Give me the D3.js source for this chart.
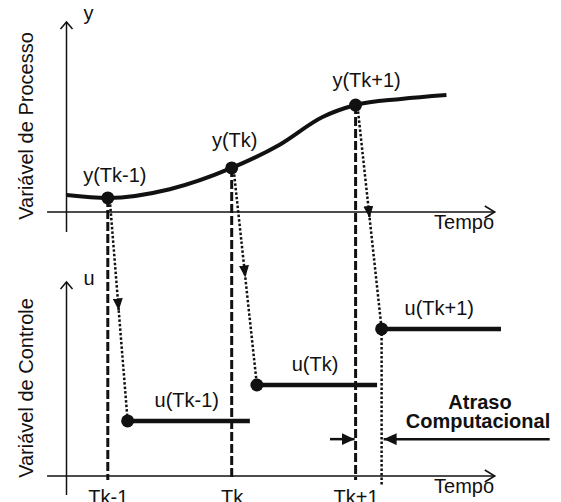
<!DOCTYPE html>
<html>
<head>
<meta charset="utf-8">
<script src="https://cdn.jsdelivr.net/npm/d3@7"></script>
<style>
  html, body { margin: 0; padding: 0; background: #fff; }
  svg { display: block; }
  text { font-family: "Liberation Sans", Arial, sans-serif; fill: #111; }
</style>
</head>
<body>
<svg id="chart" width="561" height="502"></svg>
<script>
// ---- data ----
const sampleLabels = ["Tk-1", "Tk", "Tk+1"];
const sampleTimes = [1, 4, 7];
const yLabels = ["y(Tk-1)", "y(Tk)", "y(Tk+1)"];
const sampleY = [0.74, 2.32, 5.63];

const curveT = [0, 1, 2.5, 4, 5.15, 6.2, 7, 8.1, 9.2];
const curveY = [0.89, 0.74, 1.2, 2.32, 3.53, 5.0, 5.63, 5.95, 6.16];

const uLabels = ["u(Tk-1)", "u(Tk)", "u(Tk+1)"];
const uStart = [1.48, 4.61, 7.63];
const uEnd = [4.44, 7.52, 10.52];
const uVals = [2.84, 4.69, 7.58];

const axisTitles = ["Variável de Processo", "Variável de Controle"];
const axisLetters = ["y", "u"];
const timeLabel = "Tempo";
const delayLabel = ["Atraso", "Computacional"];

// ---- scales ----
const svg = d3.select("#chart");
const x = d3.scaleLinear().domain([0, 10]).range([66.5, 479.5]);
const yTop = d3.scaleLinear().domain([0, 10]).range([212, 22]);
const yBot = d3.scaleLinear().domain([0, 10]).range([476, 282]);

const defs = svg.append("defs");
defs.append("marker").attr("id", "tri")
  .attr("viewBox", "0 -5 12 10").attr("refX", 12).attr("refY", 0)
  .attr("markerWidth", 12).attr("markerHeight", 10)
  .attr("markerUnits", "userSpaceOnUse").attr("orient", "auto")
  .append("path").attr("d", "M0,-5L12,0L0,5Z").attr("fill", "#111");
defs.append("marker").attr("id", "tri2")
  .attr("viewBox", "0 -6 13 12").attr("refX", 13).attr("refY", 0)
  .attr("markerWidth", 13).attr("markerHeight", 12)
  .attr("markerUnits", "userSpaceOnUse").attr("orient", "auto")
  .append("path").attr("d", "M0,-6L13,0L0,6Z").attr("fill", "#111");

// ---- axes ----
function drawAxes(yS, letter, yBottomVal) {
  const x0 = x(-0.47), x1 = x(10.37), y0 = yS(0);
  const ax = x(0), yTopPx = yS(10), yBotPx = yS(yBottomVal);
  svg.append("line").attr("x1", x0).attr("x2", x1).attr("y1", y0).attr("y2", y0)
    .attr("stroke", "#111").attr("stroke-width", 1.5);
  svg.append("path").attr("d", `M${x1 - 10},${y0 - 6}L${x1},${y0}L${x1 - 10},${y0 + 6}`)
    .attr("fill", "none").attr("stroke", "#111").attr("stroke-width", 1.5);
  svg.append("line").attr("x1", ax).attr("x2", ax).attr("y1", yBotPx).attr("y2", yTopPx)
    .attr("stroke", "#111").attr("stroke-width", 1.5);
  svg.append("path").attr("d", `M${ax - 6},${yTopPx + 7}L${ax},${yTopPx}L${ax + 6},${yTopPx + 7}`)
    .attr("fill", "none").attr("stroke", "#111").attr("stroke-width", 1.5);
  svg.append("text").attr("x", ax + 17).attr("y", yTopPx + (letter === "y" ? -2 : 3))
    .attr("font-size", 20).text(letter);
  svg.append("text").attr("x", x(8.9)).attr("y", y0 + 17)
    .attr("font-size", 20).text(timeLabel);
}
drawAxes(yTop, axisLetters[0], -1.05);
drawAxes(yBot, axisLetters[1], -0.98);

// rotated titles
svg.append("text").attr("transform", `translate(33,${126}) rotate(-90)`)
  .attr("text-anchor", "middle").attr("font-size", 20).text(axisTitles[0]);
svg.append("text").attr("transform", `translate(33,${388}) rotate(-90)`)
  .attr("text-anchor", "middle").attr("font-size", 20).text(axisTitles[1]);

// ---- dashed sampling lines ----
svg.selectAll(".samp").data(sampleTimes).enter().append("line")
  .attr("x1", d => x(d)).attr("x2", d => x(d))
  .attr("y1", (d, i) => yTop(sampleY[i])).attr("y2", yBot(-0.2))
  .attr("stroke", "#111").attr("stroke-width", 3).attr("stroke-dasharray", "9,3");

// ---- dotted transfer arrows ----
sampleTimes.forEach((t, i) => {
  const xa = x(t) + 2, ya = yTop(sampleY[i]) + 2;
  const xb = x(uStart[i]), yb = yBot(uVals[i]);
  const xm = (xa + xb) / 2, ym = (ya + yb) / 2;
  svg.append("line").attr("x1", xa).attr("y1", ya).attr("x2", xm).attr("y2", ym)
    .attr("stroke", "#111").attr("stroke-width", 2.5).attr("stroke-dasharray", "2.5,2")
    .attr("marker-end", "url(#tri)");
  svg.append("line").attr("x1", xm).attr("y1", ym).attr("x2", xb).attr("y2", yb)
    .attr("stroke", "#111").attr("stroke-width", 2.5).attr("stroke-dasharray", "2.5,2");
});
// dotted vertical at last control instant
svg.append("line").attr("x1", x(uStart[2])).attr("x2", x(uStart[2]))
  .attr("y1", yBot(uVals[2])).attr("y2", yBot(-0.52))
  .attr("stroke", "#111").attr("stroke-width", 2.5).attr("stroke-dasharray", "2.5,2");

// ---- process curve ----
const line = d3.line().x(d => x(d[0])).y(d => yTop(d[1])).curve(d3.curveMonotoneX);
svg.append("path").datum(curveT.map((t, i) => [t, curveY[i]]))
  .attr("d", line).attr("fill", "none").attr("stroke", "#111").attr("stroke-width", 4);
svg.selectAll(".ypt").data(sampleTimes).enter().append("circle")
  .attr("cx", d => x(d)).attr("cy", (d, i) => yTop(sampleY[i])).attr("r", 6.5).attr("fill", "#111");
const yLabOff = [7, 3, 11];
const yLabDy = [-16, -21, -18];
svg.selectAll(".ylab").data(yLabels).enter().append("text")
  .attr("x", (d, i) => x(sampleTimes[i]) + yLabOff[i])
  .attr("y", (d, i) => yTop(sampleY[i]) + yLabDy[i])
  .attr("text-anchor", "middle").attr("font-size", 20).text(d => d);

// ---- control steps ----
svg.selectAll(".useg").data(uVals).enter().append("line")
  .attr("x1", (d, i) => x(uStart[i])).attr("x2", (d, i) => x(uEnd[i]))
  .attr("y1", d => yBot(d)).attr("y2", d => yBot(d))
  .attr("stroke", "#111").attr("stroke-width", 4.5);
svg.selectAll(".upt").data(uVals).enter().append("circle")
  .attr("cx", (d, i) => x(uStart[i])).attr("cy", d => yBot(d)).attr("r", 6.5).attr("fill", "#111");
svg.selectAll(".ulab").data(uLabels).enter().append("text")
  .attr("x", (d, i) => (x(uStart[i]) + x(uEnd[i])) / 2 - 2)
  .attr("y", (d, i) => yBot(uVals[i]) - 14)
  .attr("text-anchor", "middle").attr("font-size", 20).text(d => d);

// ---- computational delay annotation ----
const ay = yBot(1.9);
svg.append("line").attr("x1", x(6.38)).attr("x2", x(sampleTimes[2]) - 1).attr("y1", ay).attr("y2", ay)
  .attr("stroke", "#111").attr("stroke-width", 2.5).attr("marker-end", "url(#tri2)");
svg.append("line").attr("x1", x(11.7)).attr("x2", x(uStart[2]) + 2).attr("y1", ay).attr("y2", ay)
  .attr("stroke", "#111").attr("stroke-width", 2.5).attr("marker-end", "url(#tri2)");
svg.append("text").attr("x", 480).attr("y", 409).attr("text-anchor", "middle")
  .attr("font-size", 20).attr("font-weight", "bold").text(delayLabel[0]);
svg.append("text").attr("x", 478).attr("y", 428).attr("text-anchor", "middle")
  .attr("font-size", 20).attr("font-weight", "bold").text(delayLabel[1]);

// ---- sample time labels (axis) ----
const tAxis = d3.axisBottom(x).tickValues(sampleTimes)
  .tickFormat((d, i) => sampleLabels[i]).tickSize(0).tickPadding(14);
const g = svg.append("g").attr("transform", `translate(0,${yBot(0)})`).call(tAxis);
g.select(".domain").remove();
g.selectAll("text").attr("font-size", 20).attr("fill", "#111")
  .attr("font-family", "Liberation Sans, Arial, sans-serif");
</script>
</body>
</html>
